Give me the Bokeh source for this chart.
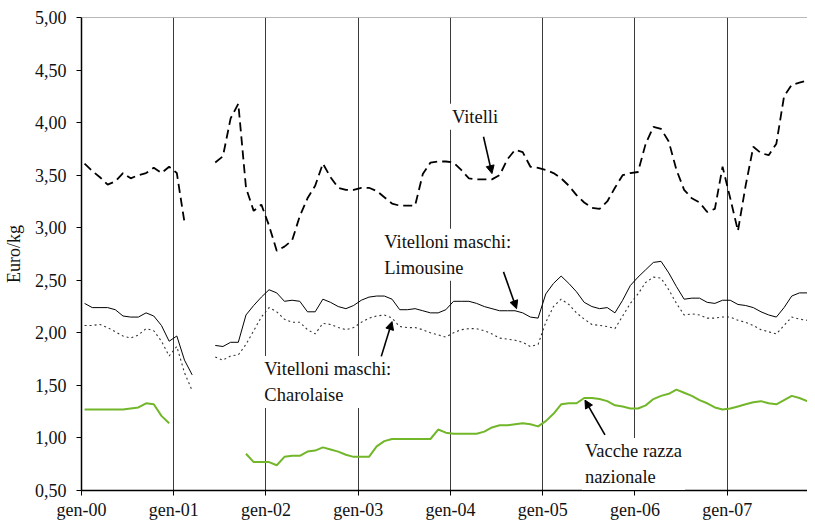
import numpy as np
from bokeh.plotting import figure
from bokeh.models import (FixedTicker, CustomJSTickFormatter, Span, Label,
                          Arrow, NormalHead, Range1d)
from bokeh.embed import file_html
from bokeh.resources import INLINE

# ---------------- data (monthly, Jan 2000 .. Dec 2007) ----------------
MONTHS = list(range(96))
YEAR_TICKS = [0, 12, 24, 36, 48, 60, 72, 84]
YEAR_LABELS = ["gen-00", "gen-01", "gen-02", "gen-03",
               "gen-04", "gen-05", "gen-06", "gen-07"]
Y_TICKS = [0.5, 1.0, 1.5, 2.0, 2.5, 3.0, 3.5, 4.0, 4.5, 5.0]

vitelli = [
    3.61, 3.54, 3.48, 3.41, 3.44, 3.52, 3.47, 3.50, 3.52, 3.57, 3.52, 3.58,
    3.52, 3.05, None, None, None, 3.62, 3.68, 4.04, 4.18, 3.38, 3.16, 3.22,
    3.02, 2.78, 2.82, 2.88, 3.11, 3.28, 3.40, 3.61, 3.48, 3.38, 3.36, 3.36,
    3.38, 3.38, 3.35, 3.29, 3.23, 3.21, 3.21, 3.21, 3.51, 3.62, 3.63, 3.63,
    3.62, 3.55, 3.47, 3.46, 3.46, 3.46, 3.50, 3.65, 3.74, 3.72, 3.58, 3.57,
    3.55, 3.52, 3.47, 3.40, 3.31, 3.24, 3.19, 3.18, 3.25, 3.38, 3.50, 3.52,
    3.53, 3.80, 3.96, 3.94, 3.82, 3.55, 3.36, 3.28, 3.24, 3.15, 3.18, 3.58,
    3.28, 2.97, 3.40, 3.77, 3.71, 3.69, 3.80, 4.25, 4.36, 4.38, 4.40, 4.43,
]
limousine = [
    2.28, 2.24, 2.24, 2.24, 2.22, 2.16, 2.15, 2.15, 2.19, 2.16, 2.07, 1.92,
    1.97, 1.74, 1.60, None, None, 1.88, 1.87, 1.91, 1.91, 2.17, 2.26, 2.34,
    2.41, 2.38, 2.30, 2.31, 2.30, 2.20, 2.20, 2.32, 2.29, 2.25, 2.23, 2.26,
    2.31, 2.34, 2.35, 2.35, 2.32, 2.22, 2.22, 2.23, 2.21, 2.19, 2.19, 2.22,
    2.30, 2.30, 2.30, 2.28, 2.25, 2.23, 2.21, 2.21, 2.21, 2.19, 2.15, 2.14,
    2.37, 2.47, 2.54, 2.47, 2.39, 2.29, 2.25, 2.23, 2.24, 2.19, 2.31, 2.45,
    2.53, 2.60, 2.67, 2.68, 2.57, 2.44, 2.32, 2.33, 2.33, 2.29, 2.28, 2.31,
    2.31, 2.27, 2.26, 2.24, 2.20, 2.17, 2.15, 2.24, 2.35, 2.38, 2.38, 2.42,
]
charolaise = [
    2.07, 2.07, 2.08, 2.05, 2.01, 1.97, 1.95, 1.98, 2.04, 2.02, 1.92, 1.78,
    1.87, 1.62, 1.45, None, None, 1.77, 1.74, 1.78, 1.79, 1.89, 2.02, 2.15,
    2.24, 2.20, 2.13, 2.10, 2.10, 2.03, 1.99, 2.09, 2.08, 2.05, 2.03, 2.05,
    2.10, 2.14, 2.16, 2.17, 2.14, 2.06, 2.05, 2.05, 2.03, 2.00, 1.98, 1.96,
    2.00, 2.03, 2.04, 2.04, 2.02, 1.99, 1.95, 1.94, 1.93, 1.91, 1.87, 1.89,
    2.10, 2.25, 2.32, 2.27, 2.19, 2.13, 2.08, 2.07, 2.06, 2.04, 2.16, 2.28,
    2.37, 2.48, 2.53, 2.52, 2.41, 2.28, 2.17, 2.18, 2.17, 2.14, 2.14, 2.15,
    2.15, 2.12, 2.10, 2.07, 2.03, 2.01, 1.99, 2.07, 2.15, 2.13, 2.12, 2.12,
]
vacche = [
    1.27, 1.27, 1.27, 1.27, 1.27, 1.27, 1.28, 1.29, 1.33, 1.32, 1.21, 1.14,
    None, None, None, None, None, None, None, None, None, 0.85, 0.77, 0.77,
    0.77, 0.74, 0.82, 0.83, 0.83, 0.87, 0.88, 0.91, 0.89, 0.87, 0.84, 0.82,
    0.82, 0.82, 0.92, 0.97, 0.99, 0.99, 0.99, 0.99, 0.99, 0.99, 1.08, 1.05,
    1.04, 1.04, 1.04, 1.04, 1.06, 1.10, 1.12, 1.12, 1.13, 1.14, 1.13, 1.11,
    1.16, 1.23, 1.32, 1.33, 1.33, 1.38, 1.38, 1.37, 1.35, 1.31, 1.30, 1.28,
    1.28, 1.31, 1.37, 1.40, 1.42, 1.46, 1.43, 1.40, 1.36, 1.33, 1.29, 1.27,
    1.28, 1.30, 1.32, 1.34, 1.35, 1.33, 1.32, 1.36, 1.40, 1.38, 1.35, 1.33,
]

# points are plotted a little after the start of each month
POINT_OFFSET = 0.4
x = np.array(MONTHS, dtype=float) + POINT_OFFSET

def arr(v):
    return np.array([np.nan if a is None else a for a in v], dtype=float)

SERIF = "Liberation Serif"

p = figure(width=807, height=522, output_backend="svg", toolbar_location=None,
           x_range=Range1d(0, 94.45), y_range=Range1d(0.5, 5.0),
           min_border_left=78, min_border_right=0, min_border_top=17,
           min_border_bottom=31)
p.outline_line_color = None
p.background_fill_color = "white"
p.border_fill_color = "white"

# grid: vertical lines at each January only
p.ygrid.grid_line_color = None
p.xgrid.ticker = FixedTicker(ticks=YEAR_TICKS)
p.xgrid.grid_line_color = "#3a3a3a"
p.xgrid.grid_line_width = 1

# axes
p.xaxis.ticker = FixedTicker(ticks=YEAR_TICKS)
p.xaxis.formatter = CustomJSTickFormatter(args=dict(labels=YEAR_LABELS),
                                          code="return labels[Math.round(tick/12)];")
p.yaxis.ticker = FixedTicker(ticks=Y_TICKS)
p.yaxis.formatter = CustomJSTickFormatter(code="return tick.toFixed(2).replace('.', ',');")
for ax in (p.xaxis[0], p.yaxis[0]):
    ax.axis_line_color = "black"
    ax.axis_line_width = 1.5
    ax.major_tick_line_color = "black"
    ax.major_tick_out = 5
    ax.major_tick_in = 0
    ax.minor_tick_line_color = None
    ax.major_label_text_font = SERIF
    ax.major_label_text_font_size = "18px"
    ax.major_label_text_color = "#111111"
p.xaxis.major_label_standoff = 4
p.yaxis.major_label_standoff = 10
p.yaxis.axis_label = "Euro/kg"
p.yaxis.axis_label_text_font = SERIF
p.yaxis.axis_label_text_font_size = "18px"
p.yaxis.axis_label_text_font_style = "normal"
p.yaxis.axis_label_text_color = "#111111"
p.yaxis.axis_label_standoff = 8

# top border line
p.add_layout(Span(location=Y_TICKS[-1], dimension="width", line_color="#707070", line_width=1.2))

# series
p.line(x, arr(vitelli), line_color="black", line_width=1.8, line_dash="9 5")
p.line(x, arr(limousine), line_color="black", line_width=1)
p.line(x, arr(charolaise), line_color="#333333", line_width=1.1, line_dash="2 3")
p.line(x, arr(vacche), line_color="#72b62a", line_width=2)

# annotations
def label(xv, yv, text):
    lab = Label(x=xv, y=yv, text=text, text_font=SERIF, text_font_size="18.5px",
                text_color="#111111", text_align="left", text_baseline="top",
                text_line_height=1.3, background_fill_color="white", padding=3)
    p.add_layout(lab)

label(47.8, 4.18, "Vitelli")
label(39.0, 2.99, "Vitelloni maschi:\nLimousine")
label(23.4, 1.78, "Vitelloni maschi:\nCharolaise")
label(65.1, 1.00, "Vacche razza\nnazionale")

def arrow(x0, y0, x1, y1):
    p.add_layout(Arrow(end=NormalHead(size=8, fill_color="black", line_color="black"),
                       x_start=x0, y_start=y0, x_end=x1, y_end=y1,
                       line_color="black", line_width=1.6))

arrow(52.3, 3.865, 53.4, 3.515)
arrow(54.9, 2.58, 56.6, 2.23)
arrow(39.0, 1.776, 40.4, 2.107)
arrow(68.1, 1.03, 65.5, 1.36)

open("out.html", "w").write(file_html(p, INLINE))
